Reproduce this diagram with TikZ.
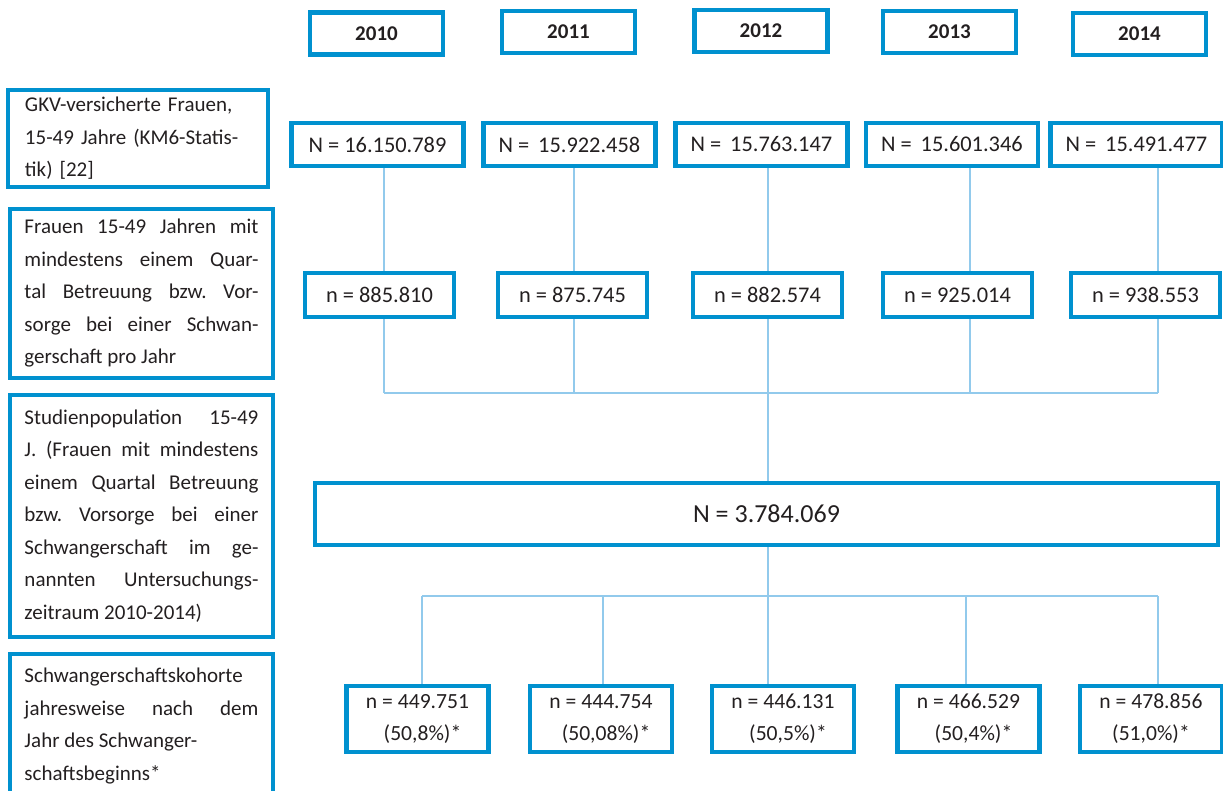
\documentclass[tikz,border=0pt]{standalone}
\usepackage{fontspec}
\setmainfont{Carlito}
\usepackage{tikz}

\definecolor{boxblue}{HTML}{0091CF}
\definecolor{linkblue}{HTML}{92CAEC}
\definecolor{ink}{HTML}{231F20}
\frenchspacing
\hyphenpenalty=10000

\begin{document}
\begin{tikzpicture}[
    x = 0.5pt, y = -0.5pt,
    box/.style = {draw=boxblue, line width=2.25pt, inner sep=0pt, text=ink},
    year/.style = {box, minimum width=66.5pt, minimum height=21pt, font=\bfseries\fontsize{10.5}{12}\selectfont},
    big/.style = {box, minimum width=86pt, minimum height=21.5pt, font=\fontsize{11.2}{13}\selectfont},
    small/.style = {box, minimum width=74.5pt, minimum height=22pt, font=\fontsize{11.2}{13}\selectfont},
    cohort/.style = {box, minimum width=71pt, minimum height=33pt, align=center, font=\fontsize{10.8}{16}\selectfont},
    side/.style = {box, minimum width=131.5pt, text width=117pt, align=justify, font=\fontsize{10.5}{16.25}\selectfont},
    link/.style = {draw=linkblue, line width=1pt}
    ]
    \clip (0,0) rectangle (1223,791);
    \begin{scope}[nodes=year]
        \node (y10) at (376.5,33.5) {2010};
        \node (y11) at (568.5,32) {2011};
        \node (y12) at (761,31) {2012};
        \node (y13) at (949.5,32) {2013};
        \node (y14) at (1139.5,34) {2014};
    \end{scope}
    \begin{scope}[nodes=big]
        \node (N10) at (377.5,144.5) {N = 16.150.789};
        \node (N11) at (569.5,144.5) {N = \,15.922.458};
        \node (N12) at (761.5,144.5) {N = \,15.763.147};
        \node (N13) at (952,144.5) {N = \,15.601.346};
        \node (N14) at (1136.5,144.5) {N = \,15.491.477};
    \end{scope}
    \begin{scope}[nodes=small]
        \node (n10) at (379.5,295) {n = 885.810};
        \node (n11) at (572.5,295) {n = 875.745};
        \node (n12) at (767.5,295) {n = 882.574};
        \node (n13) at (957.5,295) {n = 925.014};
        \node (n14) at (1145.5,295) {n = 938.553};
    \end{scope}
    \node[box, minimum width=451.5pt, minimum height=31pt, font=\fontsize{13}{15}\selectfont] (all) at (766.5,514) {N = 3.784.069};
    \begin{scope}[nodes=cohort]
        \node (c10) at (417.5,719) {n = 449.751\\\hspace*{5pt}(50,8\%)*};
        \node (c11) at (601,719) {n = 444.754\\\hspace*{5pt}(50,08\%)*};
        \node (c12) at (783,719) {n = 446.131\\\hspace*{5pt}(50,5\%)*};
        \node (c13) at (968.5,719) {n = 466.529\\\hspace*{5pt}(50,4\%)*};
        \node (c14) at (1151,719) {n = 478.856\\(51,0\%)*};
    \end{scope}
    \node[side, minimum width=130pt, minimum height=48.5pt, text width=113pt, align=left] (s1) at (138,138.5)
        {GKV-versicherte Frauen,\\15-49 Jahre (KM6-Statis-\\tik) [22]};
    \node[side, minimum height=84.5pt] (s2) at (141.5,293.5)
        {Frauen 15-49 Jahren mit\linebreak mindestens einem Quar-\linebreak tal Betreuung bzw. Vor-\linebreak sorge bei einer Schwan-\linebreak gerschaft pro Jahr};
    \node[side, minimum height=121pt] (s3) at (141.5,516)
        {Studienpopulation 15-49\linebreak J. (Frauen mit mindestens\linebreak einem Quartal Betreuung\linebreak bzw. Vorsorge bei einer\linebreak Schwangerschaft im ge-\linebreak nannten Untersuchungs-\linebreak zeitraum 2010-2014)};
    \node[side, minimum height=72pt] (s4) at (141.5,726)
        {Schwangerschaftskohorte\newline jahresweise nach dem\linebreak Jahr des Schwanger-\newline schaftsbeginns*};

    \coordinate (j10) at (384,393);
    \coordinate (j11) at (574,393);
    \coordinate (j12) at (768,393);
    \coordinate (j13) at (970,393);
    \coordinate (j14) at (1158,393);
    \coordinate (k10) at (422,596);
    \coordinate (k11) at (603,596);
    \coordinate (k12) at (768,596);
    \coordinate (k13) at (966,596);
    \coordinate (k14) at (1158,596);
    \begin{scope}[every path/.style=link]
        \draw (N10.south -| j10) -- (n10.north -| j10);
        \draw (N11.south -| j11) -- (n11.north -| j11);
        \draw (N12.south -| j12) -- (n12.north -| j12);
        \draw (N13.south -| j13) -- (n13.north -| j13);
        \draw (N14.south -| j14) -- (n14.north -| j14);
        \draw (n10.south -| j10) -- (j10);
        \draw (n11.south -| j11) -- (j11);
        \draw (n12.south -| j12) -- (j12);
        \draw (n13.south -| j13) -- (j13);
        \draw (n14.south -| j14) -- (j14);
        \draw (j10) -- (j14);
        \draw (j12) -- (all.north -| j12);
        \draw (all.south -| k12) -- (k12);
        \draw (k10) -- (k14);
        \draw (k10) -- (c10.north -| k10);
        \draw (k11) -- (c11.north -| k11);
        \draw (k12) -- (c12.north -| k12);
        \draw (k13) -- (c13.north -| k13);
        \draw (k14) -- (c14.north -| k14);
    \end{scope}
\end{tikzpicture}
\end{document}
